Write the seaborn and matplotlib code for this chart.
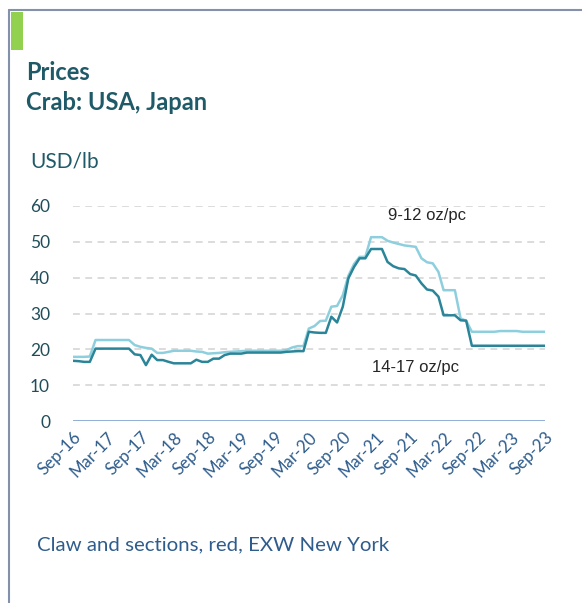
import numpy as np
import pandas as pd
import matplotlib
matplotlib.use("Agg")
import matplotlib.pyplot as plt
import seaborn as sns
from matplotlib.patches import Rectangle
from matplotlib.lines import Line2D

# ---- data ----
start_month = "2016-09-01"
tick_labels = ["Sep-16", "Mar-17", "Sep-17", "Mar-18", "Sep-18", "Mar-19", "Sep-19",
               "Mar-20", "Sep-20", "Mar-21", "Sep-21", "Mar-22", "Sep-22", "Mar-23", "Sep-23"]
yticks = [0, 10, 20, 30, 40, 50, 60]

price_14_17 = [16.8, 16.7, 16.5, 16.5, 20.2, 20.2, 20.2, 20.2, 20.2, 20.2,
               20.2, 18.6, 18.4, 15.6, 18.5, 17.0, 17.0, 16.5, 16.1, 16.1,
               16.1, 16.1, 17.1, 16.5, 16.5, 17.4, 17.4, 18.4, 18.8, 18.8,
               18.8, 19.1, 19.1, 19.1, 19.1, 19.1, 19.1, 19.1, 19.3, 19.4,
               19.5, 19.5, 24.9, 24.7, 24.6, 24.6, 29.1, 27.5, 31.9, 39.8,
               43.0, 45.4, 45.4, 48.0, 48.0, 48.0, 44.4, 43.2, 42.6, 42.4,
               41.0, 40.6, 38.4, 36.7, 36.4, 34.7, 29.5, 29.5, 29.5, 28.1,
               28.0, 21.0, 21.0, 21.0, 21.0, 21.0, 21.0, 21.0, 21.0, 21.0,
               21.0, 21.0, 21.0, 21.0, 21.0]
price_9_12 = [17.9, 17.9, 17.9, 18.0, 22.6, 22.6, 22.6, 22.6, 22.6, 22.6,
              22.6, 21.2, 20.7, 20.4, 20.2, 19.0, 19.0, 19.3, 19.6, 19.6,
              19.6, 19.6, 19.4, 19.3, 18.8, 18.9, 19.0, 19.2, 19.3, 19.4,
              19.5, 19.6, 19.6, 19.6, 19.6, 19.6, 19.6, 19.6, 19.8, 20.5,
              20.9, 20.9, 25.8, 26.5, 27.9, 28.0, 31.9, 32.1, 35.1, 40.5,
              43.8, 45.8, 45.8, 51.3, 51.3, 51.3, 50.3, 49.8, 49.4, 49.0,
              48.8, 48.6, 45.4, 44.3, 44.0, 41.6, 36.5, 36.5, 36.5, 28.6,
              28.0, 24.9, 24.9, 24.9, 24.9, 24.9, 25.1, 25.1, 25.1, 25.1,
              24.9, 24.9, 24.9, 24.9, 24.9]
series_names = ["9-12 oz/pc", "14-17 oz/pc"]

dates = pd.date_range(start_month, periods=len(price_9_12), freq="MS")
df = pd.concat([
    pd.DataFrame({"date": dates, "price": price_9_12, "size": series_names[0]}),
    pd.DataFrame({"date": dates, "price": price_14_17, "size": series_names[1]}),
])

# ---- style ----
sns.set_style("white")
plt.rcParams["font.family"] = ["Lato", "DejaVu Sans"]

W, H = 582, 603
fig = plt.figure(figsize=(W / 100, H / 100), dpi=100)
ax = fig.add_axes([73 / W, 1 - 421 / H, (545 - 73) / W, (421 - 206) / H])

palette = {series_names[0]: "#8ECFDE", series_names[1]: "#2B8599"}
sns.lineplot(data=df, x="date", y="price", hue="size", palette=palette,
             linewidth=1.8, ax=ax, legend=False, zorder=3)

ax.set_ylim(0, 60)
ax.set_xlim(dates[0], dates[-1])
ax.set_xlabel("")
ax.set_ylabel("")
for s in ax.spines.values():
    s.set_visible(False)

for v in yticks[1:]:
    ax.axhline(v, color="#D9D9D9", lw=1.3, ls=(0, (3.8, 3.0)), zorder=1)
ax.axhline(0, color="#6E96C8", lw=1.8, zorder=2)

ax.set_yticks(yticks)
ax.set_yticklabels([str(v) for v in yticks])
ax.tick_params(axis="y", length=0, pad=16.5, labelsize=12.5, labelcolor="#1F4E5A")

xt = dates[::6]
ax.set_xticks(xt)
ax.set_xticklabels(tick_labels, rotation=45, ha="right", rotation_mode="anchor")
ax.tick_params(axis="x", length=0, pad=6, labelsize=12.2, labelcolor="#2E5C8C")

ax.text(dates[63], 57.3, series_names[0], ha="center", va="center",
        fontsize=12, color="#262626", family=["Liberation Sans"])
ax.text(dates[61], 15.0, series_names[1], ha="center", va="center",
        fontsize=12, color="#262626", family=["Liberation Sans"])

# ---- frame decorations ----
fig.add_artist(Line2D([9 / W, 9 / W], [0, 1 - 10 / H], transform=fig.transFigure,
                      color="#8391AA", lw=1.5))
fig.add_artist(Line2D([9 / W, 1], [1 - 10 / H, 1 - 10 / H], transform=fig.transFigure,
                      color="#8391AA", lw=1.5))
fig.add_artist(Rectangle((11 / W, 1 - 50 / H), 12 / W, 38 / H, transform=fig.transFigure,
                         facecolor="#92D050", edgecolor="none"))

title_color = "#1F5A68"
fig.text(26 / W, 1 - 72 / H, "Prices", fontsize=17, fontweight="bold",
         color=title_color, va="center", ha="left")
fig.text(26 / W, 1 - 102 / H, "Crab: USA, Japan", fontsize=17, fontweight="bold",
         color=title_color, va="center", ha="left")
fig.text(30 / W, 1 - 162 / H, "USD/lb", fontsize=15, color=title_color,
         va="center", ha="left")
fig.text(37 / W, 1 - 545 / H, "Claw and sections, red, EXW New York", fontsize=14.7,
         color="#2E5C8C", va="center", ha="left")

fig.savefig("out.png", dpi=100)
